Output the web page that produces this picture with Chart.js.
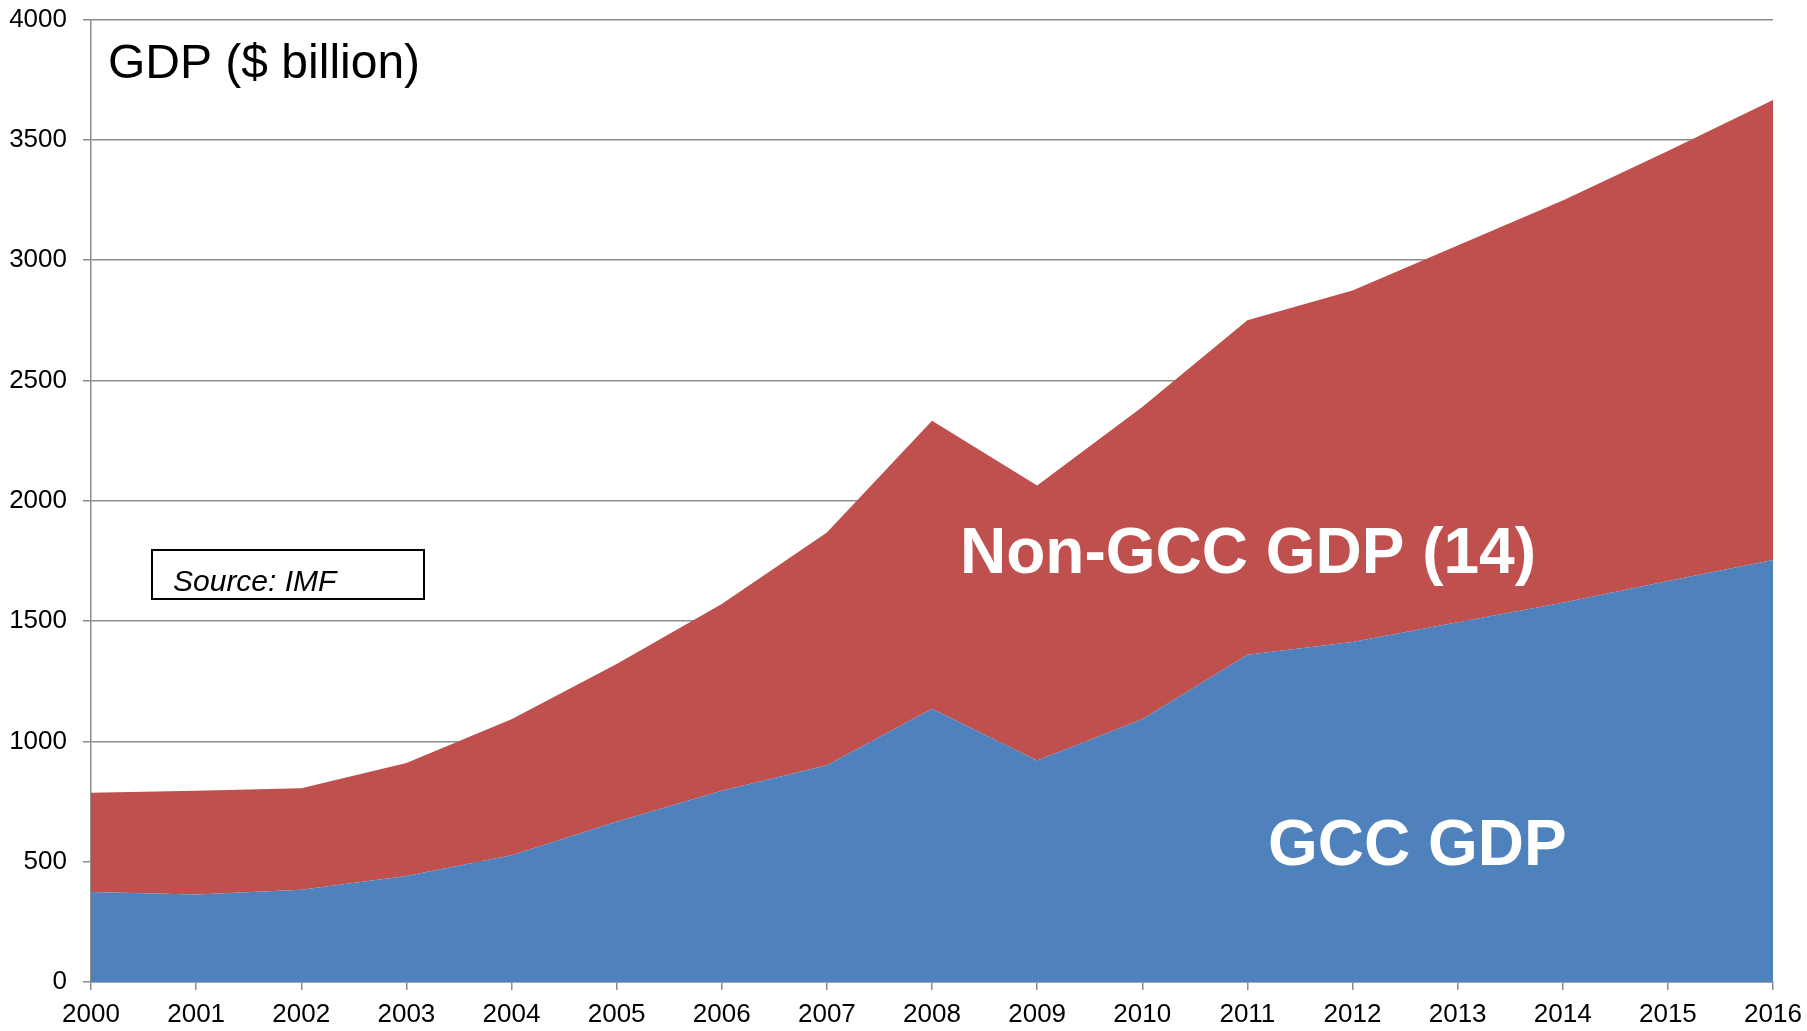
<!DOCTYPE html>
<html>
<head>
<meta charset="utf-8">
<script src="https://cdn.jsdelivr.net/npm/chart.js@4.4.1/dist/chart.umd.min.js"></script>
<style>
  html, body { margin: 0; padding: 0; background: #fff; }
  #chart { display: block; }
</style>
</head>
<body>
<canvas id="chart" width="1807" height="1031"></canvas>
<script>
// GDP data ($ billion)
const years = ["2000", "2001", "2002", "2003", "2004", "2005", "2006", "2007", "2008",
  "2009", "2010", "2011", "2012", "2013", "2014", "2015", "2016"];
const gccGdp = [374, 364, 383, 441, 527, 666, 795, 901, 1136, 921, 1092, 1360, 1413, 1495, 1576, 1667, 1754];
const nonGccGdp = [412, 431, 422, 469, 565, 656, 776, 967, 1196, 1142, 1298, 1390, 1461, 1566, 1672, 1787, 1911];

const BLUE = "#4f81bd";
const RED = "#c0504d";
const GRID = "#8c8c8c";
const FONT = "'Liberation Sans', Arial, sans-serif";

// titles, labels and source box drawn on top of the chart
const annotations = {
  id: "annotations",
  afterDraw(chart) {
    const c = chart.ctx;
    c.save();
    c.textAlign = "left";
    c.textBaseline = "alphabetic";

    c.fillStyle = "#000";
    c.font = `48px ${FONT}`;
    c.fillText("GDP ($ billion)", 108, 78);

    c.fillStyle = "#fff";
    c.font = `bold 64px ${FONT}`;
    c.fillText("Non-GCC GDP (14)", 960, 573);
    c.fillText("GCC GDP", 1268, 865);

    c.fillStyle = "#fff";
    c.fillRect(152, 550, 272, 49);
    c.strokeStyle = "#000";
    c.lineWidth = 2;
    c.strokeRect(152, 550, 272, 49);
    c.fillStyle = "#000";
    c.font = `italic 30px ${FONT}`;
    c.fillText("Source: IMF", 173, 591);
    c.restore();
  },
};

const chart = new Chart(document.getElementById("chart"), {
  type: "line",
  data: {
    labels: years,
    datasets: [
      {
        label: "GCC GDP",
        data: gccGdp,
        backgroundColor: BLUE,
        borderWidth: 0,
        pointRadius: 0,
        fill: "origin",
      },
      {
        label: "Non-GCC GDP (14)",
        data: nonGccGdp,
        backgroundColor: RED,
        borderWidth: 0,
        pointRadius: 0,
        fill: "-1",
      },
    ],
  },
  options: {
    responsive: false,
    animation: false,
    layout: { padding: { top: 19.5, right: 34, left: 0, bottom: 0 } },
    plugins: {
      legend: { display: false },
      tooltip: { enabled: false },
    },
    scales: {
      x: {
        offset: false,
        grid: { drawOnChartArea: false, tickLength: 8, color: GRID, lineWidth: 1.5 },
        border: { color: GRID, width: 1.5 },
        ticks: { color: "#000", font: { family: FONT, size: 26 }, padding: 9, maxRotation: 0, autoSkip: false },
        afterFit(scale) {
          scale.height = 49;
          scale.paddingLeft = 0;
          scale.paddingRight = 0;
        },
      },
      y: {
        stacked: true,
        min: 0,
        max: 4000,
        grid: { tickLength: 8, color: GRID, lineWidth: 1.5 },
        border: { color: GRID, width: 1.5 },
        ticks: {
          stepSize: 500,
          color: "#000",
          font: { family: FONT, size: 26 },
          padding: 16,
          callback: (v) => String(v),
        },
        afterFit(scale) {
          scale.width = 91;
          scale.paddingTop = 0;
          scale.paddingBottom = 0;
        },
      },
    },
  },
  plugins: [annotations],
});
</script>
</body>
</html>
